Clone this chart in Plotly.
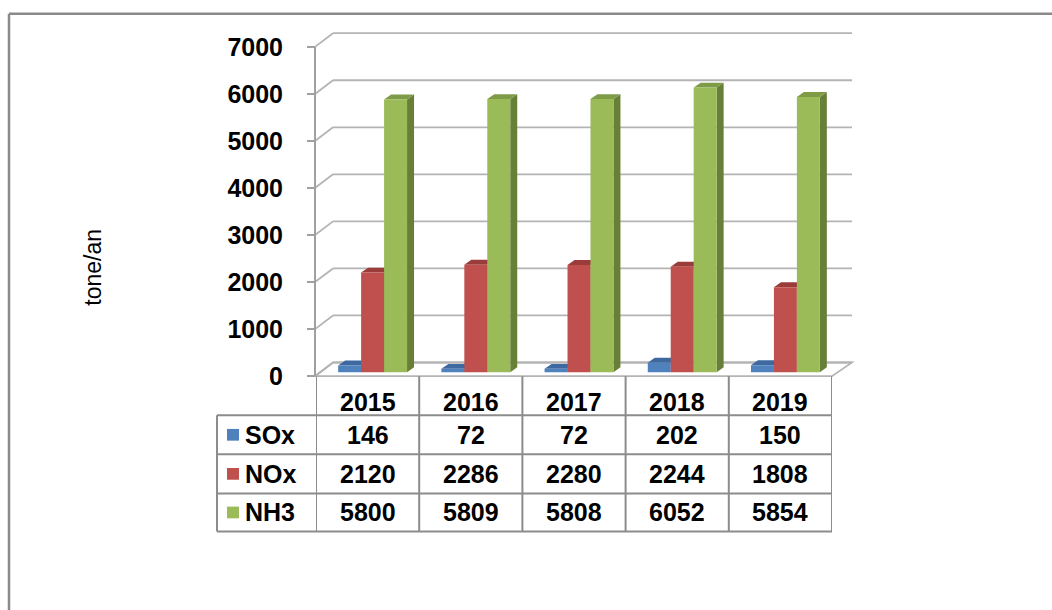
import plotly.graph_objects as go

# ---------------- data ----------------
years = ["2015", "2016", "2017", "2018", "2019"]
series_names = ["SOx", "NOx", "NH3"]
sox = [146, 72, 72, 202, 150]
nox = [2120, 2286, 2280, 2244, 1808]
nh3 = [5800, 5809, 5808, 6052, 5854]
y_ticks = [0, 1000, 2000, 3000, 4000, 5000, 6000, 7000]
y_title = "tone/an"

front_colors = ["#4F81BD", "#C0504D", "#9BBB59"]
top_colors = ["#3D69A0", "#9A3C3A", "#7E9B48"]
side_colors = ["#35609A", "#8C3533", "#687F38"]

# ---------------- geometry (pixels of the 1052x610 page) ----------------
W, H = 1052, 610
FRONT_Y0 = 385          # pixel row of value 0 on the front axis
FRONT_Y7K = 48          # pixel row of value 7000 on the front axis
S = (FRONT_Y0 - FRONT_Y7K) / 7000.0   # px per unit
DOM_TOP = 30
Y_MAX = (FRONT_Y0 - DOM_TOP) / S
AX_X = 315              # front vertical axis
BACK_X = 333            # back wall left edge
FLOOR_RF = 832          # floor right front
FLOOR_RB = 852          # floor right back / gridline end
DEPTH_Y = 14            # vertical shift front -> back wall
BAR_BASE = 4 / S        # bars stand at mid depth
FACE_DX = 7 / 103.2     # side face width (category units)
FACE_DY = 5 / S         # top face height (value units)
BAR_W = 0.2225
TBL_L, TBL_R = 316, 832
LEG_L = 217
ROW_LINES = [425, 465, 505, 544]
HEADER_Y = 411
ROW_Y = [445, 485, 524.5]
GRID_C = "#B4B4B4"
LINE_C = "#8C8C8C"
FONT = "Arial, Liberation Sans, sans-serif"


def px(x):
    return x / W


def py(y):
    return (H - y) / H


def vy(v, depth=0):
    return py(FRONT_Y0 - v * S - depth)


values = [sox, nox, nh3]
idx = list(range(len(years)))

fig = go.Figure()
shapes = []
annotations = []

# outer frame (top and left edges visible)
shapes.append(dict(type="line", xref="paper", yref="paper", x0=px(9), x1=1.05,
                   y0=py(14), y1=py(14), line=dict(color="#8A8A8A", width=2.5)))
shapes.append(dict(type="line", xref="paper", yref="paper", x0=px(9), x1=px(9),
                   y0=py(14), y1=-0.05, line=dict(color="#8A8A8A", width=2.5)))

# floor
shapes.append(dict(type="path", xref="paper", yref="paper", layer="below",
                   path=f"M {px(AX_X)},{vy(0)} L {px(FLOOR_RF)},{vy(0)} "
                        f"L {px(FLOOR_RB)},{vy(0, DEPTH_Y)} L {px(BACK_X)},{vy(0, DEPTH_Y)} Z",
                   fillcolor="white", line=dict(color=GRID_C, width=1.8)))

# back-wall gridlines with side-wall diagonals
for v in y_ticks:
    shapes.append(dict(type="line", xref="paper", yref="paper", layer="below",
                       x0=px(AX_X), y0=vy(v), x1=px(BACK_X), y1=vy(v, DEPTH_Y),
                       line=dict(color=GRID_C, width=1.8)))
    shapes.append(dict(type="line", xref="paper", yref="paper", layer="below",
                       x0=px(BACK_X), y0=vy(v, DEPTH_Y), x1=px(FLOOR_RB), y1=vy(v, DEPTH_Y),
                       line=dict(color=GRID_C, width=1.8)))

# 3D faces of bars (drawn below the front faces)
for k, vals in enumerate(values):
    off = -1.5 * BAR_W + k * BAR_W
    for i, v in zip(idx, vals):
        xl = i + off
        xr = xl + BAR_W
        b = BAR_BASE
        t = BAR_BASE + v
        shapes.append(dict(type="path", xref="x", yref="y", layer="below",
                           path=f"M {xr},{b} L {xr + FACE_DX},{b + FACE_DY} "
                                f"L {xr + FACE_DX},{t + FACE_DY} L {xr},{t} Z",
                           fillcolor=side_colors[k], line=dict(width=0)))
        shapes.append(dict(type="path", xref="x", yref="y", layer="below",
                           path=f"M {xl},{t} L {xl + FACE_DX},{t + FACE_DY} "
                                f"L {xr + FACE_DX},{t + FACE_DY} L {xr},{t} Z",
                           fillcolor=top_colors[k], line=dict(width=0)))

# front faces
for k, (name, vals) in enumerate(zip(series_names, values)):
    fig.add_trace(go.Bar(
        x=idx, y=vals, base=BAR_BASE, name=name,
        width=BAR_W, offset=-1.5 * BAR_W + k * BAR_W,
        marker=dict(color=front_colors[k], line=dict(width=0)),
        xaxis="x", yaxis="y", showlegend=False,
        hovertemplate=name + " %{customdata}: %{y}<extra></extra>",
        customdata=years,
    ))

# invisible helper trace for the data-table axis
fig.add_trace(go.Scatter(x=idx, y=[None] * len(idx), xaxis="x2", yaxis="y",
                         mode="markers", showlegend=False, hoverinfo="skip"))

# front axis line (continues as table border)
shapes.append(dict(type="line", xref="paper", yref="paper", x0=px(AX_X), x1=px(AX_X),
                   y0=vy(7000), y1=vy(0), line=dict(color="#A0A0A0", width=2)))

# data table lines
tbl_lines = dict(color=LINE_C, width=2)
for j in range(len(years) + 1):
    shapes.append(dict(type="line", xref="x2", yref="paper", x0=j - 0.5, x1=j - 0.5,
                       y0=py(FRONT_Y0), y1=py(ROW_LINES[-1]), line=tbl_lines))
shapes.append(dict(type="line", xref="paper", yref="paper", x0=px(LEG_L), x1=px(LEG_L),
                   y0=py(ROW_LINES[0]), y1=py(ROW_LINES[-1]), line=tbl_lines))
for r in ROW_LINES:
    shapes.append(dict(type="line", xref="paper", yref="paper", x0=px(LEG_L), x1=px(TBL_R),
                       y0=py(r), y1=py(r), line=tbl_lines))

bold = dict(family=FONT, size=25, color="black", weight="bold")

for i, yr in zip(idx, years):
    annotations.append(dict(xref="x2", yref="paper", x=i, y=py(HEADER_Y), text=yr,
                            showarrow=False, font=bold, xanchor="center", yanchor="middle"))
for k, vals in enumerate(values):
    for i, v in zip(idx, vals):
        annotations.append(dict(xref="x2", yref="paper", x=i, y=py(ROW_Y[k]), text=str(v),
                                showarrow=False, font=bold, xanchor="center", yanchor="middle"))
    # legend key + series name
    shapes.append(dict(type="rect", xref="paper", yref="paper",
                       x0=px(227), x1=px(239), y0=py(ROW_Y[k] - 6), y1=py(ROW_Y[k] + 6),
                       fillcolor=front_colors[k], line=dict(width=0)))
    annotations.append(dict(xref="paper", yref="paper", x=px(243), y=py(ROW_Y[k]),
                            text=series_names[k], showarrow=False, font=bold,
                            xanchor="left", yanchor="middle"))

# y axis title
annotations.append(dict(xref="paper", yref="paper", x=px(93), y=py(274), text=y_title,
                        textangle=-90, showarrow=False,
                        font=dict(family=FONT, size=23, color="black"),
                        xanchor="center", yanchor="middle"))

fig.update_layout(
    width=W, height=H,
    margin=dict(l=0, r=0, t=0, b=0),
    paper_bgcolor="white", plot_bgcolor="rgba(0,0,0,0)",
    barmode="overlay",
    shapes=shapes, annotations=annotations,
    xaxis=dict(domain=[px(321), px(837)], range=[-0.5, 4.5], visible=False,
               anchor="y", fixedrange=True),
    xaxis2=dict(domain=[px(TBL_L), px(TBL_R)], range=[-0.5, 4.5], visible=False,
                anchor="y", fixedrange=True),
    yaxis=dict(domain=[py(FRONT_Y0), py(DOM_TOP)], range=[0, Y_MAX],
               anchor="free", position=px(AX_X), tickvals=y_ticks,
               ticks="outside", ticklen=8, tickwidth=2, tickcolor="#A0A0A0",
               showline=False, showgrid=False, zeroline=False,
               tickfont=bold, ticklabelstandoff=19, fixedrange=True),
    showlegend=False,
)

fig.write_html(
    "out.html",
    config={"displayModeBar": False},
    post_script="document.body.style.margin='0';document.body.style.overflow='hidden';",
)
